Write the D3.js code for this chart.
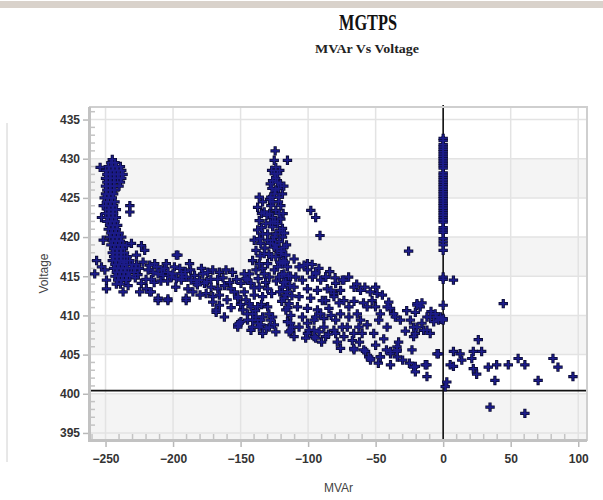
<!DOCTYPE html>
<html>
<head>
<meta charset="utf-8">
<script src="https://cdn.jsdelivr.net/npm/d3@7"></script>
<style>
  html, body { margin: 0; padding: 0; background: #fff; }
  svg { display: block; }
</style>
</head>
<body>
<svg id="chart" width="603" height="500"></svg>
<script>
// ---------------- DATA ----------------
const titleText = "MGTPS";
const subtitleText = "MVAr Vs Voltage";
const xLabel = "MVAr";
const yLabel = "Voltage";
const xTicks = [-250, -200, -150, -100, -50, 0, 50, 100];
const yTicks = [395, 400, 405, 410, 415, 420, 425, 430, 435];
const refVoltage = 400.4;
const refMvar = 0;

// [MVAr, Voltage] pairs
const leftCluster = [
  [-254,428.9],[-245,429.9],[-232,424],[-232,423.2],[-258,415.3],[-256.6,417],[-253,416.2],
  [-249.3,414.5],[-250.5,415.8],[-251.7,424],[-253,422.5],[-251.7,419.6],[-249.3,413.4],
  [-237,413],[-234.5,414.5],[-233.3,413.8],[-234.5,418.9],[-227.1,417.7],[-230.8,419.2],
  [-246,429.5],[-243,429.5],
  [-248,429],[-245,429],[-242,429],[-239,429],
  [-250,428.5],[-247,428.5],[-244,428.5],[-241,428.5],[-238,428.5],
  [-249,428],[-246,428],[-243,428],[-240,428],[-237,428],
  [-250,427.5],[-247,427.5],[-244,427.5],[-241,427.5],[-238,427.5],
  [-249,427],[-246,427],[-243,427],[-239,427],
  [-250,426.5],[-247,426.5],[-244,426.5],[-240,426.5],
  [-249,426],[-246,426],[-243,426],
  [-250,425.5],[-247,425.5],[-244,425.5],
  [-251,425],[-248,425],[-245,425],
  [-249,424.5],[-246,424.5],[-243,424.5],
  [-250,424],[-247,424],[-244,424],
  [-248,423.5],[-245,423.5],[-242,423.5],
  [-250,423],[-247,423],[-244,423],
  [-248,422.5],[-245,422.5],[-242,422.5],
  [-249,422],[-246,422],[-243,422],
  [-247,421.5],[-244,421.5],[-241,421.5],
  [-248,421],[-245,421],[-242,421],
  [-246,420.5],[-243,420.5],[-240,420.5],
  [-247,420],[-244,420],[-241,420],[-238,420],
  [-245,419.5],[-242,419.5],[-239,419.5],
  [-246,419],[-243,419],[-240,419],[-237,419],
  [-244,418.5],[-241,418.5],[-238,418.5],
  [-245,418],[-242,418],[-239,418],[-236,418],
  [-244,417.5],[-241,417.5],[-238,417.5],[-234,417.5],
  [-245,417],[-242,417],[-239,417],[-236,417],[-232,417],
  [-243,416.5],[-240,416.5],[-237,416.5],[-234,416.5],[-230,416.5],[-227,416.5],
  [-244,416],[-241,416],[-238,416],[-235,416],[-231,416],[-228,416],
  [-242,415.5],[-239,415.5],[-236,415.5],[-233,415.5],[-229,415.5],
  [-243,415],[-240,415],[-237,415],[-234,415],
  [-241,414.5],[-238,414.5],[-235,414.5],
  [-242,414],[-239,414]
];

const midBand = [
  [-224.7,413],[-217.3,413],[-211,412.2],[-203.8,412.1],[-190.3,412.2],[-197.6,417.7],
  [-187.8,416.6],[-223.4,418.9],[-222.2,416.8],[-214.8,415.5],[-206.3,416],[-200.1,415.3],
  [-192.7,414.9],[-221,418.3],[-196.4,417.7],[-218.5,415.8],[-211.1,415.3],[-207.4,415.1],
  [-203.8,415.5],[-205,416.6],[-201.3,414.9],[-197.6,414.7],[-193.9,414.5],[-190.3,414.9],
  [-186.6,414.5],[-184.1,415.1],[-178,415.3],[-174.3,415.5],[-170.6,415.8],[-165.7,415.5],
  [-160.8,415.8],[-176.8,414.1],[-171.8,413.6],[-166.9,413.4],[-162,413.8],[-157.1,413.4],
  [-154.6,413],[-175.5,412.8],[-170.6,412.4],[-165.7,412.6],[-170.6,411.7],[-165.7,411.3],
  [-168.1,410.7],[-162,409.8],[-152.1,412.2],[-223.5,414.1],[-219.8,413.4],[-216.1,413],
  [-211.1,411.9],[-203.8,411.9],[-190.3,411.9],[-185.3,413],[-189,413.4],[-217.3,416.4],
  [-213.6,416.6],[-208.7,415.8],[-193.9,415.3],[-180.5,414.5],[-168.1,410.4],
  [-226,415.2],[-220,414.6],[-214,414.2],[-198,413.6],[-182,413.9],[-172,414.6],
  [-236,416.8],[-232,415],[-228,414.8],[-225,416],[-216,414.6],[-212,416.2],[-209,414.4],
  [-204,414.4],[-199,416.2],[-195,416],[-191,415.6],[-187,415.8],[-183,414.2],[-179,416],
  [-175,414.3],[-167,414.6],[-163,414.8],[-158,414.2],[-156,415.5],[-153,414.6],
  [-180,412.6],[-160,412],[-157,411]
];

const spikeCluster = [
  [-124.4,431.0],[-115.3,429.8],[-125.1,429.8],[-123.9,428.9],[-125.1,428.1],[-122.6,428.1],
  [-126.3,427.2],[-122.6,427],[-126.8,426.2],[-121.9,426.2],[-127.6,425.1],[-121.5,425.1],
  [-125.1,425.5],[-127.6,424],[-120.2,424],[-123.9,423.4],[-126.3,422.5],[-120.2,422.3],
  [-122.6,421.7],[-126.3,421.3],[-119,421.1],[-123.9,420.4],[-119,420],[-126.3,419.6],
  [-121.5,419.4],[-117.8,418.7],[-125.1,418.7],[-120.2,417.9],[-116.5,417.7],[-123.9,417.5],
  [-119,416.6],[-122.6,416.2],[-115.3,416.2],[-117.8,415.3],[-121.5,414.9],[-116.5,414.3],
  [-119,413.6],[-115.3,413],[-117.8,412.2],[-114.1,411.5],[-116.5,410.7],[-112.8,410],
  [-115.3,409.2],[-111.6,408.5],[-114.1,407.9],[-110.4,407.3],
  [-127,428.5],[-121,428.5],[-124,427.5],[-128,426.8],[-120.5,426.8],[-124,426],
  [-126,424.5],[-122,424.5],[-119,425.5],[-128.5,424.8],[-124.5,422],[-121.5,423],
  [-118.5,423],[-128,421.8],[-125,420],[-121,420.8],[-117.5,420.5],[-128,419.2],
  [-123,418.5],[-119.5,418.2],[-116,419],[-127,417.5],[-121,416.8],[-117,416.8],
  [-125,415.8],[-119.5,415.2],[-114.5,415],[-123.5,414.4],[-118,414.2],[-113.5,413.8],
  [-121,413],[-116.5,412.6],[-119.5,411.8],[-115,411],[-113,409],
  [-136.2,425.1],[-133.7,424.5],[-137.4,423.8],[-132.5,423.2],[-136.2,422.1],[-131.3,421.7],
  [-137.4,420.9],[-133.7,420.4],[-139.9,419.6],[-135,419.2],[-130,419.6],[-138.6,418.3],
  [-132.5,417.9],[-141.1,417],[-136.2,416.6],[-130,416.6],[-138.6,415.8],[-132.5,415.3],
  [-128.8,414.9],[-143.6,415.3],[-146,414.7],[-149.7,414.1],[-142.3,414.1],[-136.2,413.6],
  [-130,413.4],[-147.3,413],[-139.9,412.6],[-133.7,412.4],[-152.1,412.4],[-143.6,411.5],
  [-137.4,411.1],[-130,411.1],[-148.4,410.7],[-141.1,410.2],[-133.7,409.8],[-126.3,409.8],
  [-144.8,409.4],[-137.4,409],[-128.8,408.5],[-142.3,408.1],[-133.7,407.7],[-151,409],
  [-123.9,407.9],
  [-134.5,423],[-130.5,422.8],[-134.5,421.2],[-130,420.4],[-136,419.8],[-132,418.6],
  [-135.5,417.6],[-129,417.8],[-134,416],[-137,414.7],[-131.5,414.2],[-140,413.5],
  [-127,412.8],[-134.5,411.4],[-139,410.6],[-129,410.2],[-146,412],[-150,411.4],
  [-145,410.2],[-131,408.3],[-125,408.8],
  [-110.4,417.2],[-106.7,416.2],[-103,416.4],[-100.5,415.8],[-109.1,414.9],[-104.2,414.5],
  [-96.8,414.9],[-94.4,415.3],[-90.7,414.5],[-87,414.9],[-110.4,413.6],[-100.5,413.4],
  [-93.1,413.2],[-85.8,413.4],[-79.6,414.1],[-74.7,414.5],[-106.7,412.4],[-98.1,412.2],
  [-89.5,411.9],[-80.9,412.4],[-107.9,411.1],[-100.5,410.9],[-93.1,410.7],[-84.6,410.9],
  [-104.2,409.8],[-95.6,409.4],[-88.3,409.6],[-79.6,409.4],[-106.7,408.5],[-99.3,408.1],
  [-91.9,407.9],[-101.8,407.1],[-94.4,407.1],[-87,407.3],[-79.6,407.7],[-74.7,408.5],
  [-152.1,408.8],[-141.1,409.4],[-135,408.8],[-127.6,409.4],[-112.8,408.1],[-100.5,407.7],
  [-95.6,407.3],[-147.3,415.3],[-144.8,414.5],[-142.3,411.1],[-138.6,409.8],[-135,409.4],
  [-149.7,409.2],[-152.1,408.5],[-141.1,408.5],[-136.2,408.5],
  [-98,423.4],[-94.4,422.5],[-91.2,420.2],
  [-118,426.5],[-128.5,423],[-124,419],[-118.5,417],[-113,415],[-112,412.5]
];

const rightBand = [
  [-25.6,418.2],[-100.5,416.6],[-94.4,415.5],[-87,414.9],[-73.5,414.5],[-66,413.6],
  [-61.2,413.2],[-50,413.6],[-48.9,412.8],[-40.3,411.7],[-39,410.9],[-19.4,411.5],
  [-20.6,410.4],[-12,409.8],[-5.9,410.2],[-3.5,409.4],[-31.7,409.4],[-35.4,409.8],
  [-41.5,408.5],[-47.7,409.4],[-56.3,408.8],[-60,407.7],[-51.4,407.7],[-34.2,406],
  [-39,405.4],[-34.2,405.4],[-46.5,404.7],[-39,403.7],[-55.1,404.7],[-57.5,405.4],
  [-66.2,405.8],[-67.3,406.8],[-73.5,407.3],[-78.4,406.6],[-80.9,408.1],[-88.3,408.5],
  [-95.6,408.1],[-100.5,409],[-94.4,409.8],[-90.7,410.2],[-87,411.9],[-80.9,412.8],
  [-76,413.2],[-73.5,411.9],[-69.8,411.1],[-69.8,409.8],[-63.6,410.2],[-61.2,409.4],
  [-62.4,408.5],[-52.6,411.9],[-56.3,411.1],[-50.1,411.1],[-46.5,410.2],[-41.5,411.1],
  [-36.7,410.2],[-24.3,409.4],[-21.9,408.5],[-20.6,407.7],[-15.7,409],[-12,408.1],
  [-23.1,405.6],[-21.9,403.4],[-13.3,403.7],[-12,402.2],[-20.6,402.8],[-3.5,405.1],
  [-53.8,404.3],[-33,406.6],[-66.2,407.7],
  [-19.4,411.3],[-17,411.1],[-9.6,409.8],[-4.6,409.8],[-19.4,408.5],[-14.5,408.1],
  [-21.9,407.3],[-4.6,405.1],[-20.6,403.5],[-12,403.7],[-34,405.6],[-34,404.7],
  [-39,405.1],[-46.5,404.7],[-53.8,404.5],[-58.8,405.6],[-66,405.6],[-15.7,411.6],
  [-9.6,407.7],[-2,409.8],[-1.5,409.5],
  [-97,416.5],[-92,416],[-84,415.6],[-80,414.8],[-70,414.9],[-64,414],[-58,413.6],
  [-54,413],[-45,412.6],[-83,413.2],[-77,411.6],[-66,411.8],[-59,411.6],[-83,410],
  [-76,410.2],[-71,408.5],[-85,407.6],[-90,406.6],[-76,405.8],[-62,406.6],[-50,406.2],
  [-44,407],[-42,405.6],[-48,403.9],[-28,408],[-27,410.6],[-30,404.3],[-25,403.9],
  [-9,410.5],[-7,409.2]
];

const zeroColumn = [
  [0,432.6],[0,432.3],[0,431.8],[0,431.5],[0,431.2],[0,430.9],[0,430.6],[0,430.3],
  [0,430.0],[0,429.7],[0,429.4],[0,429.1],[0,428.8],[0,428.2],[0,427.9],[0,427.6],
  [0,427.3],[0,427.0],[0,426.7],[0,426.4],[0,426.1],[0,425.8],[0,425.5],[0,425.2],
  [0,424.9],[0,424.6],[0,424.3],[0,424.0],[0,423.7],[0,423.4],[0,423.1],[0,422.8],
  [0,422.5],[0,422.2],[0,421.9],[0,421.2],[0,420.9],[0,420.6],[0,419.8],[0,419.4],
  [0,419.0],[0,418.3],[0,414.9],[0,414.6],[0,411.3],[0,409.4],[0,409.6]
];

const positiveSide = [
  [7.6,414.5],[44.5,411.5],[26,406.9],[7.6,405.4],[12.5,405.1],[13.8,404.3],[22.3,405.4],
  [28.5,405.4],[21.2,404.5],[5.2,403.7],[7.6,403.5],[22.3,403.2],[24.8,402.5],[33.4,403.4],
  [39.6,403.7],[48.2,403.7],[55.5,404.5],[60.5,403.7],[38.3,401.7],[70.3,401.7],
  [81.3,404.5],[85,403.4],[96.1,402.2],[2.7,401.5],[1.5,400.9],[34.7,398.3],[60.5,397.5]
];

const allPoints = [].concat(leftCluster, midBand, spikeCluster, rightBand, zeroColumn, positiveSide);

// ---------------- CHART ----------------
const svg = d3.select("#chart");
const plot = {left: 90, right: 587, top: 107, bottom: 440};

const x = d3.scaleLinear().domain([-261.5, 106.5]).range([plot.left, plot.right]);
const y = d3.scaleLinear().domain([394.1, 436.6]).range([plot.bottom, plot.top]);

// top decorative band and left line
svg.append("rect").attr("x", 0).attr("y", 1).attr("width", 603).attr("height", 7).attr("fill", "#d9d2cb");
svg.append("line").attr("x1", 7).attr("x2", 7).attr("y1", 123).attr("y2", 462)
  .attr("stroke", "#d0d0d0").attr("stroke-width", 1);

// titles
svg.append("text").attr("x", 368).attr("y", 30).attr("text-anchor", "middle")
  .attr("font-family", "'Liberation Serif', 'Times New Roman', serif").attr("font-weight", "bold")
  .attr("font-size", 23).attr("textLength", 58).attr("lengthAdjust", "spacingAndGlyphs")
  .attr("fill", "#111").text(titleText);
svg.append("text").attr("x", 367).attr("y", 53).attr("text-anchor", "middle")
  .attr("font-family", "'Liberation Serif', 'Times New Roman', serif").attr("font-weight", "bold")
  .attr("font-size", 13).attr("textLength", 104).attr("lengthAdjust", "spacingAndGlyphs")
  .attr("fill", "#222").text(subtitleText);

// background bands
const bandStarts = [395, 405, 415, 425];
svg.append("rect").attr("x", plot.left).attr("y", plot.top).attr("width", plot.right - plot.left)
  .attr("height", plot.bottom - plot.top).attr("fill", "#ffffff");
svg.selectAll("rect.band").data(bandStarts).join("rect").attr("class", "band")
  .attr("x", plot.left).attr("width", plot.right - plot.left)
  .attr("y", d => y(d + 5)).attr("height", d => y(d) - y(d + 5))
  .attr("fill", "#f4f4f4");
svg.append("rect").attr("x", plot.left).attr("width", plot.right - plot.left)
  .attr("y", y(395)).attr("height", plot.bottom - y(395)).attr("fill", "#f4f4f4");

// gridlines
svg.selectAll("line.hgrid").data(yTicks).join("line").attr("class", "hgrid")
  .attr("x1", plot.left).attr("x2", plot.right).attr("y1", d => y(d)).attr("y2", d => y(d))
  .attr("stroke", "#e3e3e3").attr("stroke-width", 1.5);
svg.selectAll("line.vgrid").data(xTicks).join("line").attr("class", "vgrid")
  .attr("y1", plot.top).attr("y2", plot.bottom).attr("x1", d => x(d)).attr("x2", d => x(d))
  .attr("stroke", "#e3e3e3").attr("stroke-width", 1.5);

// minor ticks (inside)
const yMinor = d3.range(395, 437).filter(v => v % 5 !== 0);
svg.selectAll("line.ymin").data(yMinor).join("line").attr("class", "ymin")
  .attr("x1", plot.left).attr("x2", plot.left + 5).attr("y1", d => y(d)).attr("y2", d => y(d))
  .attr("stroke", "#c4c4c4").attr("stroke-width", 1.5);
const xMinor = d3.range(-260, 107, 10).filter(v => v % 50 !== 0);
svg.selectAll("line.xmin").data(xMinor).join("line").attr("class", "xmin")
  .attr("y1", plot.bottom).attr("y2", plot.bottom - 6).attr("x1", d => x(d)).attr("x2", d => x(d))
  .attr("stroke", "#c4c4c4").attr("stroke-width", 1.5);

// reference lines
svg.append("line").attr("x1", plot.left).attr("x2", plot.right)
  .attr("y1", y(refVoltage)).attr("y2", y(refVoltage)).attr("stroke", "#111").attr("stroke-width", 1.6);
svg.append("line").attr("x1", x(refMvar)).attr("x2", x(refMvar))
  .attr("y1", plot.top - 2).attr("y2", plot.bottom).attr("stroke", "#111").attr("stroke-width", 1.6);

// frame
svg.append("rect").attr("x", plot.left).attr("y", plot.top).attr("width", plot.right - plot.left)
  .attr("height", plot.bottom - plot.top).attr("fill", "none").attr("stroke", "#cfcfcf").attr("stroke-width", 2);
svg.append("line").attr("x1", plot.left - 0.5).attr("x2", plot.left - 0.5).attr("y1", plot.top).attr("y2", plot.bottom + 1)
  .attr("stroke", "#c2c2c2").attr("stroke-width", 3);
svg.append("line").attr("x1", plot.left - 2).attr("x2", plot.right).attr("y1", plot.bottom + 0.5).attr("y2", plot.bottom + 0.5)
  .attr("stroke", "#c2c2c2").attr("stroke-width", 3);

// axes
const tickFont = "'Liberation Sans Narrow', 'Arial Narrow', 'Liberation Sans', sans-serif";
const yAxis = svg.append("g").attr("transform", `translate(${plot.left - 2},0)`)
  .call(d3.axisLeft(y).tickValues(yTicks).tickSize(5).tickPadding(3));
const xAxis = svg.append("g").attr("transform", `translate(0,${plot.bottom + 2})`)
  .call(d3.axisBottom(x).tickValues(xTicks).tickSize(5).tickPadding(7));
[yAxis, xAxis].forEach(g => {
  g.select(".domain").remove();
  g.selectAll(".tick line").attr("stroke", "#b8b8b8").attr("stroke-width", 1.5);
  g.selectAll(".tick text").attr("font-family", tickFont).attr("font-size", 12)
    .attr("fill", "#333").attr("font-weight", "bold");
});

// axis titles
svg.append("text").attr("x", (plot.left + plot.right) / 2).attr("y", 492).attr("text-anchor", "middle")
  .attr("font-family", "'Liberation Sans', Arial, sans-serif").attr("font-size", 12).attr("fill", "#444")
  .text(xLabel);
svg.append("text").attr("transform", `translate(48,${(plot.top + plot.bottom) / 2}) rotate(-90)`)
  .attr("text-anchor", "middle")
  .attr("font-family", "'Liberation Sans', Arial, sans-serif").attr("font-size", 12).attr("fill", "#444")
  .text(yLabel);

// markers: outline layer then inner layer
const plusPath = r => `M${-r},0H${r}M0,${-r}V${r}`;
const marks = svg.append("g");
marks.selectAll("path.outer").data(allPoints).join("path").attr("class", "outer")
  .attr("transform", d => `translate(${x(d[0])},${y(d[1])})`)
  .attr("d", plusPath(4.7)).attr("stroke", "#0a0a30").attr("stroke-width", 3.2).attr("fill", "none");
marks.selectAll("path.inner").data(allPoints).join("path").attr("class", "inner")
  .attr("transform", d => `translate(${x(d[0])},${y(d[1])})`)
  .attr("d", plusPath(3.9)).attr("stroke", "#1c1c8a").attr("stroke-width", 1.6).attr("fill", "none");
</script>
</body>
</html>
